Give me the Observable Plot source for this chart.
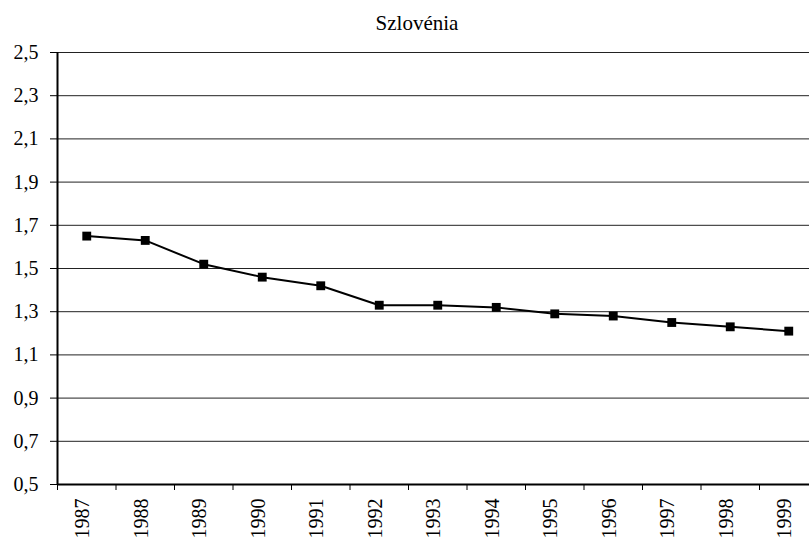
<!DOCTYPE html>
<html>
<head>
<meta charset="utf-8">
<script src="https://cdn.jsdelivr.net/npm/d3@7"></script>
<script src="https://cdn.jsdelivr.net/npm/@observablehq/plot@0.6"></script>
<style>
  html, body { margin: 0; padding: 0; background: #fff; }
  #title { height: 36px; width: 809px; font-family: "Liberation Serif", "Times New Roman", serif; font-size: 21px; color: #000; text-align: center; line-height: 24px; padding-top: 11px; box-sizing: border-box; text-indent: 25px; }
  #chart svg { display: block; }
  #chart svg text { font-family: "Liberation Serif", "Times New Roman", serif !important; font-size: 20px !important; fill: #000; }
</style>
</head>
<body>
<div id="title">Szlovénia</div>
<div id="chart"></div>
<script>
const years = [1987, 1988, 1989, 1990, 1991, 1992, 1993, 1994, 1995, 1996, 1997, 1998, 1999];
const values = [1.65, 1.63, 1.52, 1.46, 1.42, 1.33, 1.33, 1.32, 1.29, 1.28, 1.25, 1.23, 1.21];
const yTicks = [0.5, 0.7, 0.9, 1.1, 1.3, 1.5, 1.7, 1.9, 2.1, 2.3, 2.5];

const data = years.map((y, i) => ({year: y, value: values[i]}));
const boundaries = [years[0] - 0.5, ...years.map(y => y + 0.5)];
const fmt = d => d.toFixed(1).replace(".", ",");

const chart = Plot.plot({
  width: 809,
  height: 501,
  marginTop: 16,
  marginBottom: 53,
  marginLeft: 57,
  marginRight: 0,
  style: {fontFamily: "'Liberation Serif', 'Times New Roman', serif", fontSize: "20px", color: "#000", background: "#fff"},
  x: {type: "linear", domain: [years[0] - 0.5, years[years.length - 1] + 0.5], range: [57, 817.5]},
  y: {domain: [yTicks[0], yTicks[yTicks.length - 1]]},
  marks: [
    Plot.ruleY(yTicks, {stroke: "#222", strokeWidth: 1}),
    Plot.axisY({ticks: yTicks, tickFormat: fmt, tickSize: 7, tickPadding: 12, label: null, stroke: "#000", strokeWidth: 1}),
    Plot.axisX({ticks: boundaries, tickSize: 6, tickFormat: () => "", label: null, strokeWidth: 1}),
    Plot.axisX({ticks: years, tickSize: 0, tickRotate: -90, tickPadding: 14, dx: -4, tickFormat: d => String(d), label: null}),
    Plot.ruleX([boundaries[0]], {y1: yTicks[0], y2: yTicks[yTicks.length - 1], stroke: "#000", strokeWidth: 2}),
    Plot.ruleY([yTicks[0]], {stroke: "#000", strokeWidth: 2}),
    Plot.line(data, {x: "year", y: "value", stroke: "#000", strokeWidth: 2}),
    Plot.dot(data, {x: "year", y: "value", symbol: "square", r: 5, fill: "#000", stroke: "none"})
  ]
});
document.getElementById("chart").appendChild(chart);
</script>
</body>
</html>
